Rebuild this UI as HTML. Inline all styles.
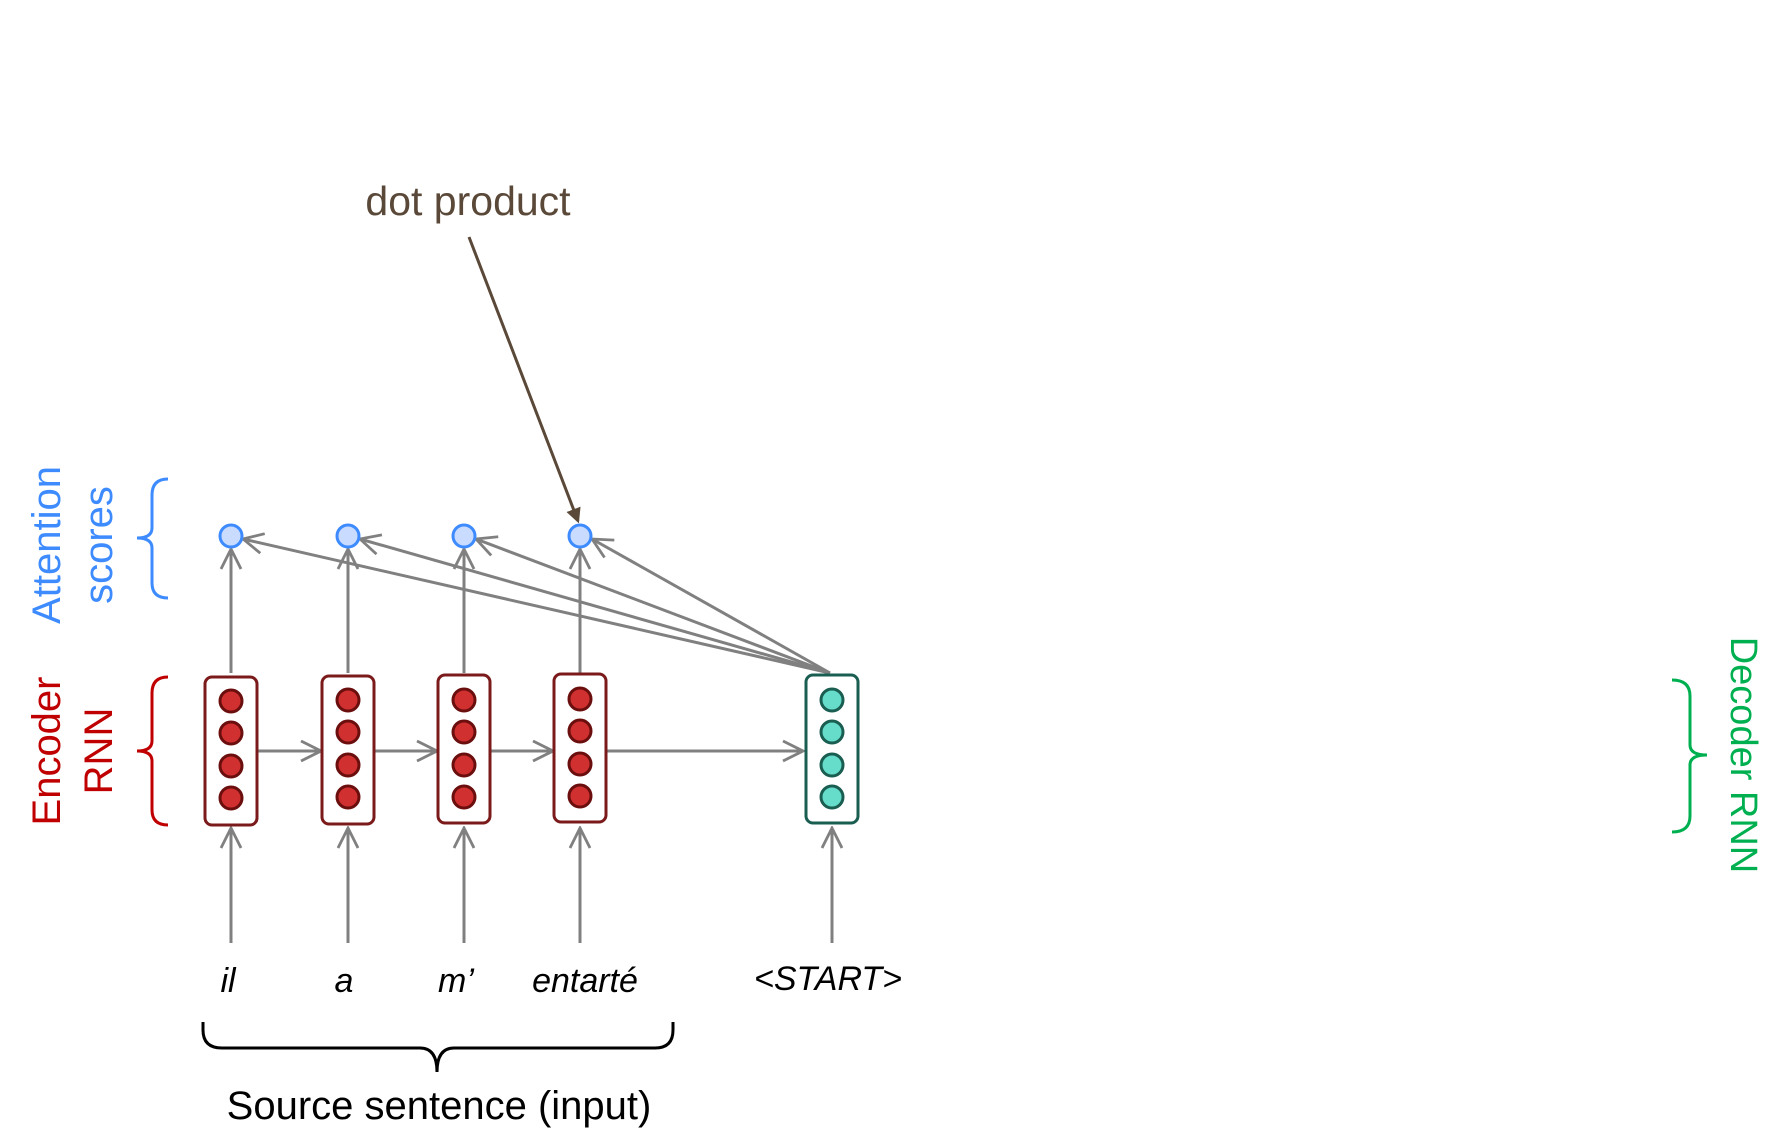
<!DOCTYPE html>
<html><head><meta charset="utf-8"><style>
html,body{margin:0;padding:0;background:#fff;}
svg{display:block;}
text{font-family:"Liberation Sans",sans-serif;}
</style></head><body>
<svg width="1784" height="1138" viewBox="0 0 1784 1138" xmlns="http://www.w3.org/2000/svg">
<defs>
<marker id="ah" viewBox="0 0 12 12" refX="11" refY="6" markerWidth="8" markerHeight="8" markerUnits="strokeWidth" orient="auto">
<path d="M1,1 L11,6 L1,11" fill="none" stroke="#808080" stroke-width="1.4"/>
</marker>
<marker id="ahb" viewBox="0 0 12 12" refX="10" refY="6" markerWidth="5" markerHeight="5" markerUnits="strokeWidth" orient="auto">
<path d="M0,0 L12,6 L0,12 z" fill="#5a4838"/>
</marker>
</defs>

<text x="468" y="215" font-size="41" fill="#5a4838" text-anchor="middle">dot product</text>
<line x1="469" y1="237" x2="578" y2="521" stroke="#5a4838" stroke-width="3" marker-end="url(#ahb)"/>

<text transform="translate(60,545) rotate(-90)" font-size="40" fill="#3d8bff" text-anchor="middle">Attention</text>
<text transform="translate(112,545) rotate(-90)" font-size="40" fill="#3d8bff" text-anchor="middle">scores</text>
<text transform="translate(60,751) rotate(-90)" font-size="40" fill="#c00000" text-anchor="middle">Encoder</text>
<text transform="translate(112,751) rotate(-90)" font-size="40" fill="#c00000" text-anchor="middle">RNN</text>
<text transform="translate(1731,755) rotate(90)" font-size="38" fill="#00b050" text-anchor="middle">Decoder RNN</text>

<path d="M168,479 Q152,479 152,495 L152,528 Q152,538 137,538 Q152,538 152,548 L152,583 Q152,598 168,598" fill="none" stroke="#3d8bff" stroke-width="3"/>
<path d="M168,677 Q152,677 152,693 L152,741 Q152,751 137,751 Q152,751 152,761 L152,810 Q152,825 168,825" fill="none" stroke="#c00000" stroke-width="3"/>
<path d="M1672,680 Q1690,680 1690,696 L1690,745 Q1690,755 1707,755 Q1690,755 1690,765 L1690,816 Q1690,832 1672,832" fill="none" stroke="#00b050" stroke-width="3"/>
<path d="M203,1022 L203,1030 Q203,1048 222,1048 L420,1048 Q437,1048 437,1072 Q437,1048 454,1048 L655,1048 Q673,1048 673,1030 L673,1022" fill="none" stroke="#000" stroke-width="3"/>

<g stroke="#808080" stroke-width="3" fill="none">
<line x1="231" y1="673" x2="231" y2="549" marker-end="url(#ah)"/>
<line x1="348" y1="673" x2="348" y2="549" marker-end="url(#ah)"/>
<line x1="464" y1="673" x2="464" y2="549" marker-end="url(#ah)"/>
<line x1="580" y1="673" x2="580" y2="549" marker-end="url(#ah)"/>
<line x1="830" y1="673" x2="243" y2="539" marker-end="url(#ah)"/>
<line x1="830" y1="673" x2="360" y2="539" marker-end="url(#ah)"/>
<line x1="830" y1="673" x2="476" y2="539" marker-end="url(#ah)"/>
<line x1="830" y1="673" x2="592" y2="539" marker-end="url(#ah)"/>
<line x1="257" y1="751" x2="321" y2="751" marker-end="url(#ah)"/>
<line x1="374" y1="751" x2="437" y2="751" marker-end="url(#ah)"/>
<line x1="490" y1="751" x2="553" y2="751" marker-end="url(#ah)"/>
<line x1="607" y1="751" x2="803" y2="751" marker-end="url(#ah)"/>
<line x1="231" y1="943" x2="231" y2="828" marker-end="url(#ah)"/>
<line x1="348" y1="943" x2="348" y2="828" marker-end="url(#ah)"/>
<line x1="464" y1="943" x2="464" y2="828" marker-end="url(#ah)"/>
<line x1="580" y1="943" x2="580" y2="828" marker-end="url(#ah)"/>
<line x1="832" y1="943" x2="832" y2="828" marker-end="url(#ah)"/>
</g>

<g fill="#c9dcff" stroke="#3d8bff" stroke-width="3">
<circle cx="231" cy="536" r="11"/><circle cx="348" cy="536" r="11"/>
<circle cx="464" cy="536" r="11"/><circle cx="580" cy="536" r="11"/>
</g>

<g fill="#fff" stroke="#7b1a1a" stroke-width="3">
<rect x="205" y="677" width="52" height="148" rx="7"/>
<rect x="322" y="676" width="52" height="148" rx="7"/>
<rect x="438" y="675" width="52" height="148" rx="7"/>
<rect x="554" y="674" width="52" height="148" rx="7"/>
</g>
<g fill="#d03030" stroke="#6b0e0e" stroke-width="3">
<circle cx="231" cy="701" r="11"/><circle cx="231" cy="733" r="11"/><circle cx="231" cy="766" r="11"/><circle cx="231" cy="798" r="11"/>
<circle cx="348" cy="700" r="11"/><circle cx="348" cy="732" r="11"/><circle cx="348" cy="765" r="11"/><circle cx="348" cy="797" r="11"/>
<circle cx="464" cy="700" r="11"/><circle cx="464" cy="732" r="11"/><circle cx="464" cy="765" r="11"/><circle cx="464" cy="797" r="11"/>
<circle cx="580" cy="699" r="11"/><circle cx="580" cy="731" r="11"/><circle cx="580" cy="764" r="11"/><circle cx="580" cy="796" r="11"/>
</g>
<rect x="806" y="675" width="52" height="148" rx="7" fill="#fff" stroke="#1a5e52" stroke-width="3"/>
<g fill="#66dccb" stroke="#1a5e52" stroke-width="3">
<circle cx="832" cy="700" r="11"/><circle cx="832" cy="732" r="11"/><circle cx="832" cy="765" r="11"/><circle cx="832" cy="797" r="11"/>
</g>

<g font-size="34" font-style="italic" fill="#000" text-anchor="middle">
<text x="228" y="992">il</text>
<text x="344" y="992">a</text>
<text x="456" y="992">m’</text>
<text x="585" y="992">entarté</text>
<text x="828" y="990">&lt;START&gt;</text>
</g>
<text x="439" y="1119" font-size="40" fill="#000" text-anchor="middle">Source sentence (input)</text>
</svg>
</body></html>
